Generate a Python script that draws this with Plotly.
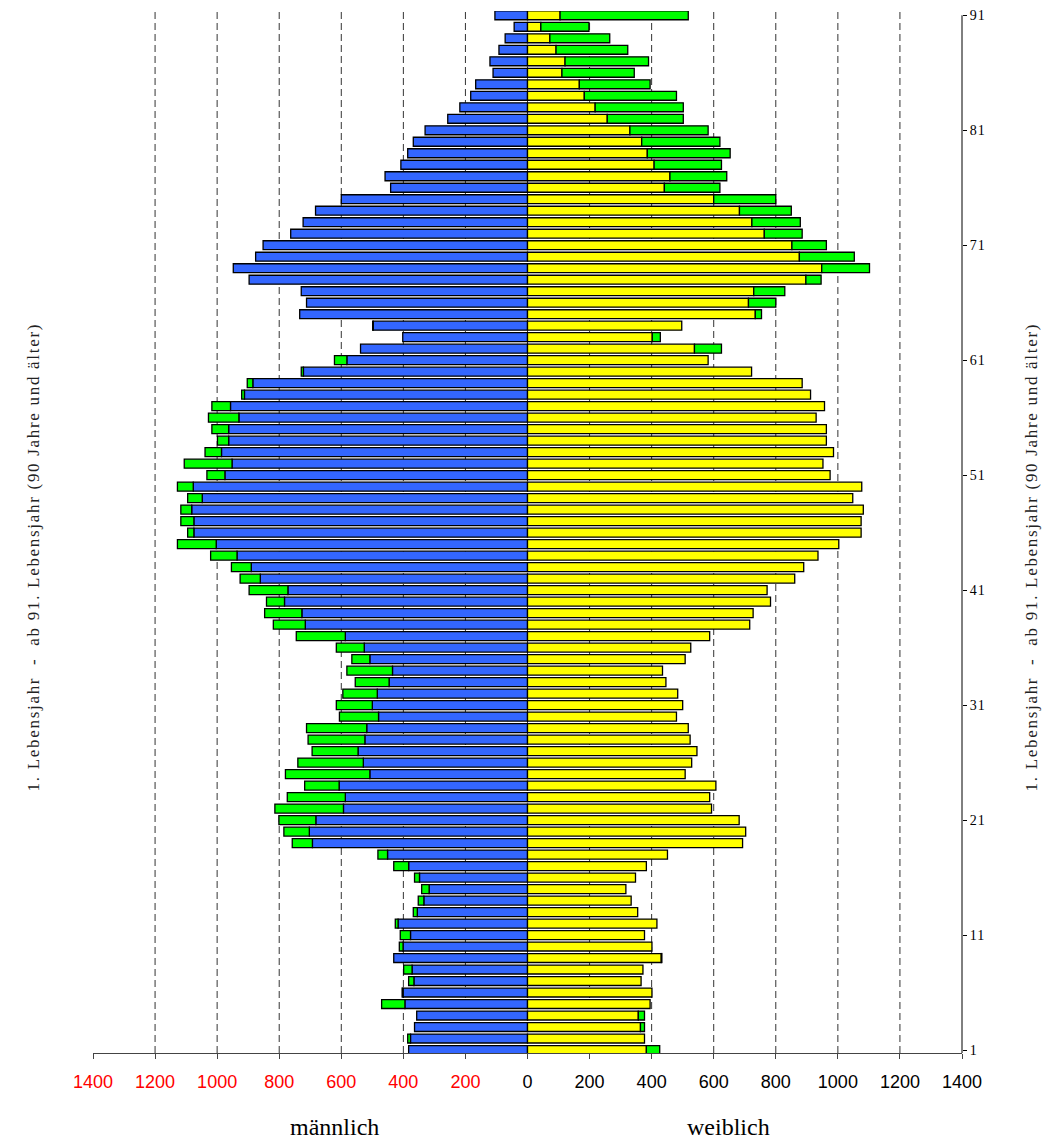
import plotly.graph_objects as go

ages = list(range(1, 92))
male = [383, 386, 364, 357, 470, 404, 383, 399, 431, 413,
        410, 426, 368, 352, 341, 364, 431, 482, 758, 785,
        801, 814, 774, 718, 780, 740, 694, 707, 712, 606,
        616, 595, 555, 582, 566, 616, 745, 819, 847, 841,
        897, 926, 954, 1021, 1128, 1095, 1117, 1117, 1095, 1128,
        1033, 1106, 1039, 999, 1017, 1028, 1017, 921, 903, 729,
        622, 538, 402, 499, 734, 712, 729, 897, 948, 876,
        852, 763, 723, 683, 600, 441, 459, 408, 386, 368,
        330, 257, 218, 183, 167, 111, 121, 92, 72, 43,
        105]
female = [426, 377, 377, 377, 395, 401, 366, 372, 433, 401,
          377, 417, 355, 334, 317, 348, 383, 451, 693, 703,
          682, 593, 587, 607, 508, 529, 546, 524, 518, 480,
          500, 484, 446, 435, 508, 526, 587, 716, 727, 783,
          772, 861, 890, 936, 1003, 1075, 1075, 1082, 1048, 1077,
          975, 952, 986, 963, 963, 930, 957, 912, 885, 722,
          582, 625, 428, 497, 754, 800, 829, 946, 1102, 1053,
          963, 885, 879, 850, 800, 620, 642, 625, 653, 620,
          582, 502, 502, 480, 395, 344, 390, 323, 265, 198,
          518]

x_ticks = [-1400, -1200, -1000, -800, -600, -400, -200, 0, 200, 400, 600, 800, 1000, 1200, 1400]
grid_x = [-1200, -1000, -800, -600, -400, -200, 0, 200, 400, 600, 800, 1000, 1200]
y_ticks = [1, 11, 21, 31, 41, 51, 61, 71, 81, 91]

common = [min(m, f) for m, f in zip(male, female)]
male_ex = [(m - c) if m - c > 0 else None for m, c in zip(male, common)]
fem_ex = [(f - c) if f - c > 0 else None for f, c in zip(female, common)]

line = dict(color="black", width=1.3)
fig = go.Figure()
fig.add_trace(go.Bar(y=ages, x=[-c for c in common], orientation="h",
                     marker=dict(color="#3366FF", line=line), name="m"))
fig.add_trace(go.Bar(y=ages, x=[(-v if v is not None else None) for v in male_ex], orientation="h",
                     marker=dict(color="#00FF00", line=line), name="m+"))
fig.add_trace(go.Bar(y=ages, x=common, orientation="h",
                     marker=dict(color="#FFFF00", line=line), name="w"))
fig.add_trace(go.Bar(y=ages, x=fem_ex, orientation="h",
                     marker=dict(color="#00FF00", line=line), name="w+"))

ticktext = []
for v in x_ticks:
    if v < 0:
        ticktext.append("<span style='color:#FF0000'>%d</span>" % abs(v))
    else:
        ticktext.append(str(v))
y_ticktext = ["<span style='letter-spacing:1px'>%d</span>" % v for v in y_ticks]

# page has an 8px body margin; plot area spans page y 8..1053
plot_h = 1045
y_bottom = 0.74
y_top = y_bottom + plot_h / 11.53

shapes = []
for gx in grid_x:
    shapes.append(dict(type="line", xref="x", yref="paper", x0=gx, x1=gx, y0=0, y1=1 + 8 / plot_h,
                       line=dict(color="#333333", width=1, dash="7px,4px"), layer="below"))
shapes.append(dict(type="line", xref="paper", yref="y", x0=1, x1=1, y0=y_bottom, y1=91,
                   line=dict(color="black", width=1)))

nb = "\u00a0\u00a0"
title_txt = ("<span style='letter-spacing:1.7px'>1. Lebensjahr" + nb + "-" + nb +
             "ab 91. Lebensjahr (90 Jahre und älter)</span>")
serif = "Liberation Serif, Times New Roman, serif"
title_y = (1053 - 556) / plot_h
annotations = [
    dict(text=title_txt, xref="paper", yref="paper", x=(33 - 93) / 869, y=title_y, textangle=-90,
         xanchor="center", yanchor="middle",
         showarrow=False, font=dict(family=serif, size=17, color="#222222")),
    dict(text=title_txt, xref="paper", yref="paper", x=(1031 - 93) / 869, y=title_y, textangle=-90,
         xanchor="center", yanchor="middle",
         showarrow=False, font=dict(family=serif, size=17, color="#222222")),
    dict(text="männlich", xref="paper", yref="paper", x=(334 - 93) / 869, y=-74 / plot_h,
         xanchor="center", yanchor="middle",
         showarrow=False, font=dict(family=serif, size=24, color="black")),
    dict(text="weiblich", xref="paper", yref="paper", x=(728 - 93) / 869, y=-74 / plot_h,
         xanchor="center", yanchor="middle",
         showarrow=False, font=dict(family=serif, size=24, color="black")),
]

fig.update_layout(
    width=1052, height=1142,
    margin=dict(l=85, r=98, t=0, b=1142 - plot_h),
    paper_bgcolor="white", plot_bgcolor="white",
    barmode="relative", bargap=0.22,
    showlegend=False,
    shapes=shapes, annotations=annotations,
    xaxis=dict(range=[-1400, 1400], tickvals=x_ticks, ticktext=ticktext,
               showgrid=False, zeroline=False, showline=True, linecolor="#444444", linewidth=1,
               ticks="outside", ticklen=5, tickcolor="#444444", ticklabelstandoff=7,
               tickfont=dict(family="Liberation Sans, Arial, sans-serif", size=18, color="black")),
    yaxis=dict(range=[y_bottom, y_top], side="right", tickvals=y_ticks, ticktext=y_ticktext,
               showgrid=False, zeroline=False, showline=False,
               ticks="outside", ticklen=4, tickcolor="black", ticklabeloverflow="allow",
               tickfont=dict(family=serif, size=14, color="black")),
)

fig.write_html("out.html")
